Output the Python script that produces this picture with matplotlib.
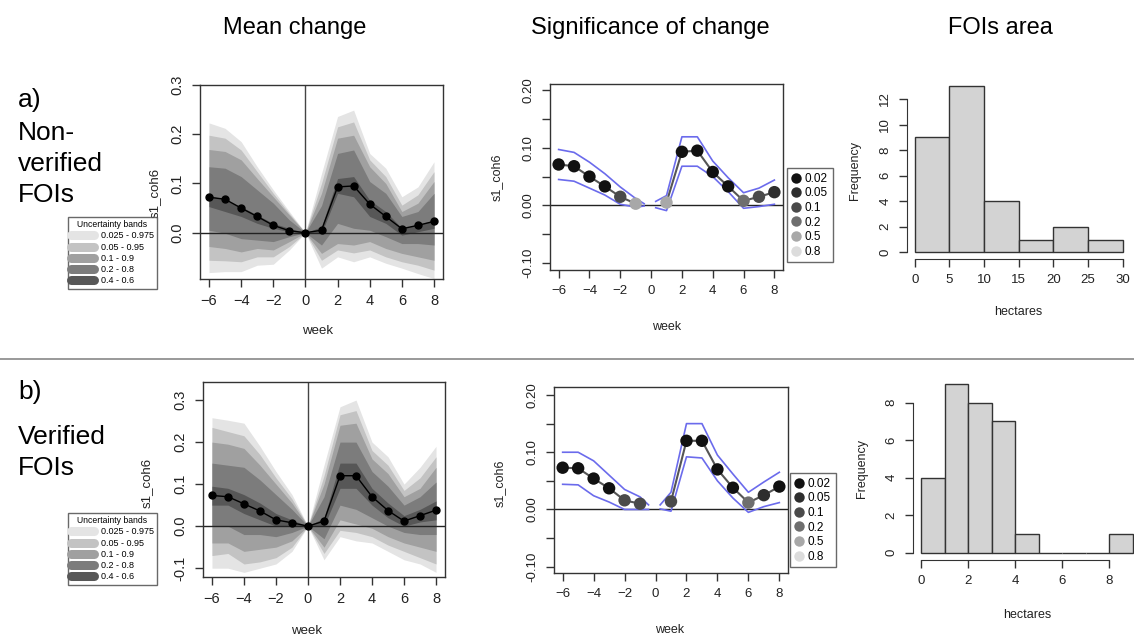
import matplotlib
matplotlib.use("Agg")
import matplotlib.pyplot as plt
from matplotlib.lines import Line2D
import numpy as np

plt.rcParams["font.family"] = ["Liberation Sans", "DejaVu Sans"]

# ---- data ------------------------------------------------------------------
weeks = [-6, -5, -4, -3, -2, -1, 0, 1, 2, 3, 4, 5, 6, 7, 8]

# a) non-verified FOIs: mean change + quantile bands
a_mean = [0.072, 0.068, 0.050, 0.033, 0.015, 0.004, 0.0, 0.005, 0.093, 0.095, 0.058, 0.033, 0.008, 0.015, 0.023]
a_bands = {
    "0.025 - 0.975": ([-0.081, -0.079, -0.079, -0.066, -0.064, -0.035, 0.0, -0.072, -0.049, -0.059, -0.049, -0.062, -0.072, -0.083, -0.093],
                      [0.223, 0.212, 0.185, 0.134, 0.087, 0.043, 0.0, 0.120, 0.236, 0.249, 0.161, 0.131, 0.073, 0.093, 0.144]),
    "0.05 - 0.95": ([-0.056, -0.057, -0.059, -0.049, -0.049, -0.028, 0.0, -0.056, -0.035, -0.041, -0.035, -0.049, -0.059, -0.066, -0.076],
                    [0.198, 0.192, 0.168, 0.124, 0.080, 0.039, 0.0, 0.100, 0.215, 0.225, 0.148, 0.114, 0.056, 0.077, 0.124]),
    "0.1 - 0.9": ([-0.028, -0.032, -0.039, -0.032, -0.035, -0.018, 0.0, -0.042, -0.022, -0.025, -0.018, -0.032, -0.042, -0.049, -0.056],
                  [0.169, 0.165, 0.148, 0.110, 0.073, 0.036, 0.0, 0.080, 0.192, 0.198, 0.134, 0.100, 0.043, 0.060, 0.104]),
    "0.2 - 0.8": ([0.005, -0.001, -0.012, -0.015, -0.018, -0.008, 0.0, -0.025, 0.019, 0.009, 0.005, -0.008, -0.022, -0.022, -0.025],
                  [0.134, 0.131, 0.114, 0.087, 0.060, 0.026, 0.0, 0.055, 0.161, 0.168, 0.104, 0.080, 0.033, 0.043, 0.080]),
    "0.4 - 0.6": ([0.053, 0.043, 0.033, 0.019, 0.009, 0.002, 0.0, -0.001, 0.080, 0.073, 0.033, 0.019, -0.005, 0.002, 0.009],
                  [0.077, 0.066, 0.053, 0.036, 0.019, 0.009, 0.0, 0.012, 0.110, 0.114, 0.066, 0.043, 0.009, 0.016, 0.026]),
}

# b) verified FOIs
b_mean = [0.073, 0.070, 0.053, 0.036, 0.015, 0.008, 0.0, 0.012, 0.120, 0.120, 0.070, 0.037, 0.012, 0.025, 0.038]
b_bands = {
    "0.025 - 0.975": ([-0.100, -0.100, -0.110, -0.100, -0.090, -0.060, 0.0, -0.080, -0.025, -0.035, -0.040, -0.060, -0.080, -0.090, -0.110],
                      [0.258, 0.252, 0.245, 0.190, 0.130, 0.075, 0.0, 0.145, 0.284, 0.300, 0.200, 0.165, 0.100, 0.140, 0.190]),
    "0.05 - 0.95": ([-0.070, -0.065, -0.090, -0.085, -0.075, -0.050, 0.0, -0.065, -0.010, -0.015, -0.025, -0.045, -0.060, -0.075, -0.090],
                    [0.235, 0.225, 0.215, 0.170, 0.115, 0.065, 0.0, 0.120, 0.265, 0.275, 0.180, 0.145, 0.085, 0.115, 0.165]),
    "0.1 - 0.9": ([-0.040, -0.040, -0.060, -0.055, -0.050, -0.035, 0.0, -0.050, 0.015, 0.005, -0.005, -0.025, -0.040, -0.050, -0.060],
                  [0.200, 0.195, 0.185, 0.145, 0.100, 0.055, 0.0, 0.100, 0.240, 0.245, 0.160, 0.125, 0.070, 0.090, 0.140]),
    "0.2 - 0.8": ([0.000, 0.000, -0.020, -0.020, -0.025, -0.015, 0.0, -0.030, 0.050, 0.040, 0.020, 0.000, -0.015, -0.020, -0.020],
                  [0.150, 0.145, 0.140, 0.110, 0.075, 0.040, 0.0, 0.070, 0.200, 0.200, 0.130, 0.095, 0.050, 0.070, 0.105]),
    "0.4 - 0.6": ([0.050, 0.050, 0.030, 0.015, 0.000, 0.000, 0.0, 0.000, 0.090, 0.090, 0.050, 0.020, 0.000, 0.010, 0.015],
                  [0.095, 0.090, 0.075, 0.055, 0.030, 0.015, 0.0, 0.020, 0.150, 0.150, 0.090, 0.055, 0.025, 0.040, 0.060]),
}
band_colors = ["#e4e4e4", "#c3c3c3", "#a0a0a0", "#7c7c7c", "#575757"]

# significance panels: weeks without 0
sig_weeks_left = [-6, -5, -4, -3, -2, -1]
sig_weeks_right = [1, 2, 3, 4, 5, 6, 7, 8]
a_sig_vals = [0.071, 0.068, 0.050, 0.033, 0.015, 0.003, 0.005, 0.093, 0.095, 0.058, 0.033, 0.008, 0.015, 0.023]
a_sig_p = [0.02, 0.02, 0.02, 0.02, 0.1, 0.5, 0.5, 0.02, 0.02, 0.02, 0.02, 0.2, 0.1, 0.05]
b_sig_vals = [0.073, 0.072, 0.054, 0.037, 0.016, 0.010, 0.014, 0.120, 0.120, 0.070, 0.038, 0.012, 0.025, 0.040]
b_sig_p = [0.02, 0.02, 0.02, 0.02, 0.1, 0.1, 0.1, 0.02, 0.02, 0.02, 0.02, 0.2, 0.05, 0.02]

# blue confidence lines (left segment ends / right segment starts near 0)
ci_weeks_left = [-6, -5, -4, -3, -2, -1, -0.45]
ci_weeks_right = [0.3, 1, 2, 3, 4, 5, 6, 7, 8]
a_ci_up = [0.097, 0.092, 0.075, 0.055, 0.032, 0.012, 0.003, 0.007, 0.017, 0.119, 0.119, 0.077, 0.048, 0.022, 0.030, 0.044]
a_ci_lo = [0.045, 0.042, 0.030, 0.018, 0.002, -0.003, -0.001, -0.004, -0.009, 0.068, 0.068, 0.050, 0.024, -0.005, -0.002, 0.002]
b_ci_up = [0.100, 0.100, 0.085, 0.060, 0.035, 0.022, 0.008, 0.008, 0.030, 0.150, 0.150, 0.095, 0.062, 0.030, 0.048, 0.065]
b_ci_lo = [0.044, 0.043, 0.024, 0.013, 0.000, 0.000, 0.000, 0.001, -0.003, 0.092, 0.090, 0.050, 0.020, -0.005, 0.005, 0.012]

p_levels = [0.02, 0.05, 0.1, 0.2, 0.5, 0.8]
p_colors = ["#111111", "#2e2e2e", "#4a4a4a", "#6e6e6e", "#a8a8a8", "#dcdcdc"]

# FOI area histograms
a_bin_edges = [0, 5, 10, 15, 20, 25, 30]
a_counts = [9, 13, 4, 1, 2, 1]
b_bin_edges = [0, 1, 2, 3, 4, 5, 6, 7, 8, 9]
b_counts = [4, 9, 8, 7, 1, 0, 0, 0, 1]

W, H = 1134, 637
AXC = "#333333"


def fr(x0, y0, x1, y1):
    """pixel box (top-left origin) -> figure rect"""
    return [x0 / W, 1 - y1 / H, (x1 - x0) / W, (y1 - y0) / H]


def style_box(ax, fs):
    for s in ax.spines.values():
        s.set_color(AXC)
        s.set_linewidth(1.0)
    ax.tick_params(colors=AXC, labelcolor="#222222", labelsize=fs, length=6, width=1.0, pad=5)
    ax.tick_params(axis="y", labelrotation=90)
    for lab in ax.get_yticklabels():
        lab.set_va("center")


def draw_fan(ax, mean, bands, yticks, ylim):
    for (name, (lo, hi)), col in zip(bands.items(), band_colors):
        ax.fill_between(weeks, lo, hi, color=col, linewidth=0)
    ax.axhline(0, color="#222222", lw=1.0)
    ax.axvline(0, color="#444444", lw=1.0)
    ax.plot(weeks, mean, color="black", lw=1.0, marker="o", ms=5)
    ax.set_xlim(-6.56, 8.56)
    ax.set_ylim(*ylim)
    ax.set_xticks(range(-6, 9, 2))
    ax.set_yticks(yticks)
    ax.set_yticklabels([f"{t:.1f}" for t in yticks])
    style_box(ax, 10.5)


def draw_sig(ax, vals, pvals, ci_up, ci_lo, ylim):
    n_l = len(sig_weeks_left)
    m_l = len(ci_weeks_left)
    ax.axhline(0, color="#222222", lw=1.0)
    for wk_ci, up, lo in ((ci_weeks_left, ci_up[:m_l], ci_lo[:m_l]),
                          (ci_weeks_right, ci_up[m_l:], ci_lo[m_l:])):
        ax.plot(wk_ci, up, color="#6b6bec", lw=1.2)
        ax.plot(wk_ci, lo, color="#6b6bec", lw=1.2)
    ax.plot(sig_weeks_left, vals[:n_l], color="#555555", lw=1.5)
    ax.plot(sig_weeks_right, vals[n_l:], color="#555555", lw=1.5)
    cols = [p_colors[p_levels.index(p)] for p in pvals]
    ax.scatter(sig_weeks_left + sig_weeks_right, vals, s=80, c=cols, zorder=3, linewidths=0)
    ax.set_xlim(-6.56, 8.56)
    ax.set_ylim(*ylim)
    ax.set_xticks(range(-6, 9, 2))
    yt = [-0.10, -0.05, 0.0, 0.05, 0.10, 0.15, 0.20]
    ax.set_yticks(yt)
    ax.set_yticklabels(["-0.10", "", "0.00", "", "0.10", "", "0.20"])
    style_box(ax, 9.5)


def draw_hist(ax, edges, counts, xticks, xbound, yticks, ylim, xlim):
    lefts = edges[:-1]
    widths = np.diff(edges)
    ax.bar(lefts, counts, width=widths, align="edge", color="#d3d3d3", edgecolor="#333333", linewidth=1.0)
    ax.set_xlim(*xlim)
    ax.set_ylim(*ylim)
    ax.set_xticks(xticks)
    ax.set_yticks(yticks)
    for s in ("top", "right"):
        ax.spines[s].set_visible(False)
    ax.spines["left"].set_bounds(yticks[0], yticks[-1])
    ax.spines["bottom"].set_bounds(xbound[0], xbound[1])
    for s in ("left", "bottom"):
        ax.spines[s].set_color(AXC)
    ax.tick_params(colors=AXC, labelcolor="#222222", labelsize=9.5, length=6, width=1.0, pad=5)
    ax.tick_params(axis="y", labelrotation=90)
    for lab in ax.get_yticklabels():
        lab.set_va("center")


fig = plt.figure(figsize=(W / 100, H / 100), dpi=100)

# column titles
for x, t in ((295, "Mean change"), (650, "Significance of change"), (1000, "FOIs area")):
    fig.text(x / W, 1 - 28 / H, t, ha="center", va="center", fontsize=17)

# row labels
fig.text(18 / W, 1 - 100 / H, "a)", ha="left", va="center", fontsize=19)
fig.text(18 / W, 1 - 121 / H, "Non-\nverified\nFOIs", ha="left", va="top", fontsize=19, linespacing=1.38)
fig.text(18 / W, 1 - 392 / H, "b)", ha="left", va="center", fontsize=19)
fig.text(18 / W, 1 - 425 / H, "Verified\nFOIs", ha="left", va="top", fontsize=19, linespacing=1.38)

# separator
fig.add_artist(Line2D([0, 1], [1 - 359 / H] * 2, color="#888888", lw=1.2))

# ---- left: mean change -----------------------------------------------------
ax_a1 = fig.add_axes(fr(200, 85, 443, 279))
draw_fan(ax_a1, a_mean, a_bands, [0.0, 0.1, 0.2, 0.3], (-0.094, 0.300))
ax_b1 = fig.add_axes(fr(203, 382, 445, 577))
draw_fan(ax_b1, b_mean, b_bands, [-0.1, 0.0, 0.1, 0.2, 0.3], (-0.121, 0.343))

fig.text(155 / W, 1 - 193 / H, "s1_coh6", rotation=90, ha="center", va="center", fontsize=9.5, color="#222222")
fig.text(147 / W, 1 - 483 / H, "s1_coh6", rotation=90, ha="center", va="center", fontsize=9.5, color="#222222")
fig.text(318 / W, 1 - 331 / H, "week", ha="center", va="center", fontsize=9.5, color="#222222")
fig.text(307 / W, 1 - 631 / H, "week", ha="center", va="center", fontsize=9.5, color="#222222")

# uncertainty-band legends
band_handles = [Line2D([], [], color=c, lw=6.5, solid_capstyle="round") for c in band_colors]
for top in (217, 513):
    leg = fig.legend(band_handles, list(a_bands.keys()), title="Uncertainty bands",
                     loc="upper left", bbox_to_anchor=(68 / W, 1 - top / H),
                     fontsize=6.5, title_fontsize=6.2, frameon=True, fancybox=False,
                     edgecolor="#444444", handlelength=2.5, handletextpad=0.8,
                     labelspacing=0.25, borderpad=0.35, borderaxespad=0)
    leg.get_frame().set_linewidth(1.0)

# ---- middle: significance --------------------------------------------------
ax_a2 = fig.add_axes(fr(550, 84, 783, 270))
draw_sig(ax_a2, a_sig_vals, a_sig_p, a_ci_up, a_ci_lo, (-0.112, 0.2106))
ax_b2 = fig.add_axes(fr(554, 387, 788, 573))
draw_sig(ax_b2, b_sig_vals, b_sig_p, b_ci_up, b_ci_lo, (-0.111, 0.214))

fig.text(497 / W, 1 - 177 / H, "s1_coh6", rotation=90, ha="center", va="center", fontsize=9, color="#222222")
fig.text(500 / W, 1 - 483 / H, "s1_coh6", rotation=90, ha="center", va="center", fontsize=9, color="#222222")
fig.text(667 / W, 1 - 327 / H, "week", ha="center", va="center", fontsize=9, color="#222222")
fig.text(670 / W, 1 - 630 / H, "week", ha="center", va="center", fontsize=9, color="#222222")

p_handles = [Line2D([], [], ls="", marker="o", ms=7.5, color=c, markeredgewidth=0) for c in p_colors]
for left, top in ((787, 168), (790, 473)):
    leg = fig.legend(p_handles, [str(p) for p in p_levels], loc="upper left",
                     bbox_to_anchor=(left / W, 1 - top / H), fontsize=8.5,
                     frameon=True, fancybox=False, edgecolor="#444444",
                     handlelength=0.8, handletextpad=0.3, labelspacing=0.22,
                     borderpad=0.4, borderaxespad=0)
    leg.get_frame().set_linewidth(1.0)

# ---- right: FOI area histograms ----------------------------------------------
ax_a3 = fig.add_axes(fr(906.5, 79.5, 1131, 259))
draw_hist(ax_a3, a_bin_edges, a_counts, range(0, 31, 5), (0, 30), list(range(0, 13, 2)), (-0.52, 13.52), (-1.2, 31.2))
ax_b3 = fig.add_axes(fr(912.7, 377.2, 1141.2, 559.5))
draw_hist(ax_b3, b_bin_edges, b_counts, range(0, 9, 2), (0, 8), list(range(0, 9, 2)), (-0.36, 9.36), (-0.36, 9.36))

fig.text(855 / W, 1 - 170 / H, "Frequency", rotation=90, ha="center", va="center", fontsize=9, color="#222222")
fig.text(862 / W, 1 - 468 / H, "Frequency", rotation=90, ha="center", va="center", fontsize=9, color="#222222")
fig.text(1018 / W, 1 - 312 / H, "hectares", ha="center", va="center", fontsize=9, color="#222222")
fig.text(1027 / W, 1 - 615 / H, "hectares", ha="center", va="center", fontsize=9, color="#222222")

fig.savefig("out.png", dpi=100)
